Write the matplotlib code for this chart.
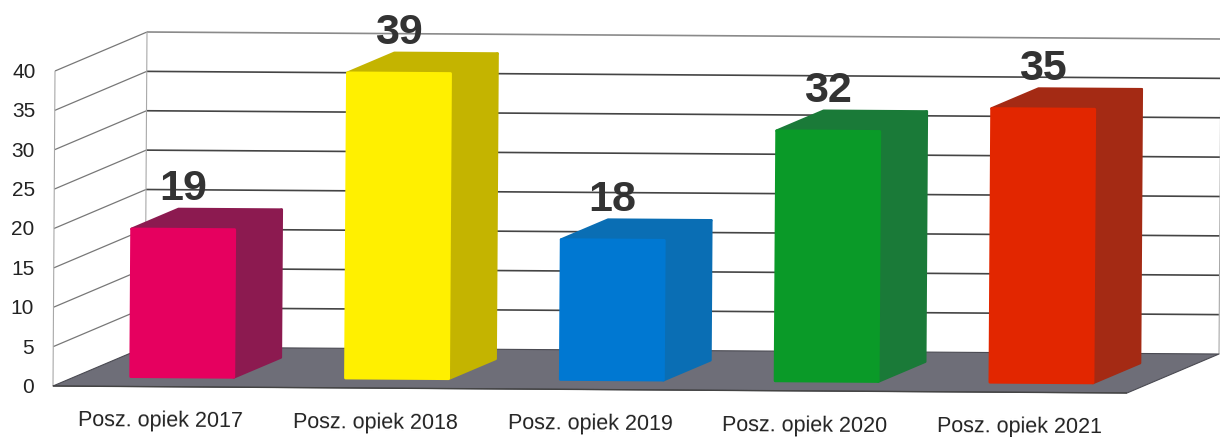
import matplotlib.pyplot as plt

plt.rcParams['font.family'] = ['Liberation Sans', 'DejaVu Sans']

# dane
categories = ['Posz. opiek 2017', 'Posz. opiek 2018', 'Posz. opiek 2019',
              'Posz. opiek 2020', 'Posz. opiek 2021']
values = [19, 39, 18, 32, 35]
y_ticks = [0, 5, 10, 15, 20, 25, 30, 35, 40]
front_colors = ['#E6005F', '#FFF000', '#0078D2', '#0A9A28', '#E22600']
side_colors = ['#8C1A50', '#C4B400', '#0A6EB4', '#1A7A38', '#A42A14']

# rzut ukosny: przesuniecie tylu wykresu w jednostkach osi
DEPTH_X = 92 / 214.8
DEPTH_V = 39 / 7.875
TILT_V = -(7 / 5) / 7.875   # skan jest lekko obrocony
TILT_X = (2 / 40) / 214.8
BAR_CENTER = 0.516
BAR_HALF = 0.24
BAR_D0 = 0.20
BAR_D1 = 0.71
BAR_BASE = 0.25             # slupki lekko unosza sie nad podloga


def project(x, v, d=0.0):
    """kategoria, wartosc, glebokosc (0-1) -> wspolrzedne osi"""
    return (x + d * DEPTH_X + v * TILT_X, v + d * DEPTH_V + x * TILT_V)


def poly(ax, points, color, zorder, edge=None, lw=2.0):
    xy = [project(*p) for p in points]
    ax.fill([p[0] for p in xy], [p[1] for p in xy], facecolor=color,
            edgecolor=edge or color, linewidth=lw, joinstyle='round', zorder=zorder)


def line(ax, points, color, lw, zorder=2):
    xy = [project(*p) for p in points]
    ax.plot([p[0] for p in xy], [p[1] for p in xy], color=color, linewidth=lw,
            solid_capstyle='butt', zorder=zorder)


fig = plt.figure(figsize=(12.2, 4.37), dpi=100)
ax = fig.add_axes([0, 0, 1, 1])
n = len(categories)
ax.set_xlim(-53 / 214.8, (1220 - 53) / 214.8)
ax.set_ylim(-51 / 7.875, 386 / 7.875)
ax.axis('off')

# podloga
poly(ax, [(0, 0, 0), (0, 0, 1), (n, 0, 1), (n, 0, 0)], '#6E6E78', 3, edge='#4A4A52', lw=0.8)

# siatka
top = y_ticks[-1]
for t in y_ticks[1:]:
    grid_col = '#8A8A8A' if t == top else '#444444'
    line(ax, [(0, t, 0), (0, t, 1)], '#777777', 0.9)
    line(ax, [(0, t, 1), (n, t, 1)], grid_col, 1.2)
line(ax, [(0, 0, 0), (0, top, 0)], '#A8A8A8', 0.8)
line(ax, [(0, 0, 1), (0, top, 1)], '#A8A8A8', 0.8)
line(ax, [(n, 0, 1), (n, top, 1)], '#A8A8A8', 0.8)
line(ax, [(0, 0, 0), (n, 0, 0)], '#444444', 1.0, zorder=4)

# slupki
for i, val in enumerate(values):
    x0 = i + BAR_CENTER - BAR_HALF
    x1 = i + BAR_CENTER + BAR_HALF
    poly(ax, [(x1, BAR_BASE, BAR_D0), (x1, BAR_BASE, BAR_D1), (x1, val, BAR_D1), (x1, val, BAR_D0)],
         side_colors[i], 5)
    poly(ax, [(x0, val, BAR_D0), (x0, val, BAR_D1), (x1, val, BAR_D1), (x1, val, BAR_D0)],
         side_colors[i], 5)
    poly(ax, [(x0, BAR_BASE, BAR_D0), (x0, val, BAR_D0), (x1, val, BAR_D0), (x1, BAR_BASE, BAR_D0)],
         front_colors[i], 6)
    ax.annotate(str(val), xy=project((x0 + x1) / 2, val, BAR_D0), xytext=(0, 29),
                textcoords='offset points', ha='center', va='center', fontsize=31,
                fontweight='bold', color='#333333', zorder=8)

# opisy osi
for t in y_ticks:
    ax.annotate(str(t), xy=project(0, t, 0), xytext=(-14, -1), textcoords='offset points',
                ha='right', va='center', fontsize=15, color='#222222')
for i, label in enumerate(categories):
    ax.annotate(label, xy=project(i + 0.5, 0, 0), xytext=(0, -25), textcoords='offset points',
                ha='center', va='center', fontsize=15.5, color='#222222', rotation=-0.37,
                rotation_mode='anchor')

fig.savefig('out.png', dpi=100)
